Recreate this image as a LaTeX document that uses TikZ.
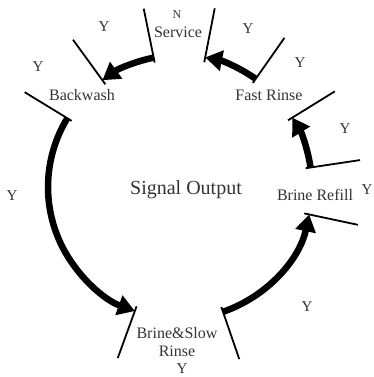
\documentclass[tikz,border=0pt]{standalone}
\usepackage{fontspec}
\setmainfont{Liberation Serif}
\usetikzlibrary{arrows.meta}

\begin{document}
\begin{tikzpicture}[x=1pt,y=1pt,
    tick/.style={line width=1.8pt},
    flow/.style={line width=6.5pt, -{Triangle[length=17pt,width=20pt]}},
    stage/.style={font=\fontsize{16}{18}\selectfont, text=black!80, inner sep=0pt},
    yes/.style={font=\fontsize{15}{16}\selectfont, text=black!80, inner sep=0pt}]

\useasboundingbox (-180,-190) rectangle (193,187);

% stage borders
\foreach \a/\n in {101.5/sl, 79/sr, 126/br, 148.6/bl, 55/fl, 31.7/fr,
                   8.5/rt, -12/rb, -110/wl, -71/wr}
  \draw[tick] (\a:127) -- (\a:182) (\a:132) coordinate (\n);

% flow between stages
\draw[flow] (sl) arc[start angle=101.5, end angle=126, radius=132];
\draw[flow] (fl) arc[start angle=55, end angle=79, radius=132];
\draw[flow] (rt) arc[start angle=8.5, end angle=31.7, radius=132];
\draw[flow] (wr) arc[start angle=-71, end angle=-12, radius=132];
\draw[flow] (bl) arc[start angle=148.6, end angle=250, radius=132];

% stages
\node[stage] (service) at (-2,155) {Service};
\node[font=\fontsize{12}{13}\selectfont, text=black!80, inner sep=0pt] (n) at (-3,172) {N};
\node[stage] (backwash) at (-98,92) {Backwash};
\node[stage] (fastrinse) at (89,92) {Fast Rinse};
\node[stage] (refill) at (135,-8) {Brine Refill};
\node[stage, align=center] (slowrinse) at (-3,-155) {Brine\&Slow\\Rinse};
\node[font=\fontsize{20}{22}\selectfont, text=black!80, inner sep=0pt] (signal) at (6,-3) {Signal Output};

% answers
\node[yes] (y1) at (-76,160) {Y};
\node[yes] (y2) at (-142,120) {Y};
\node[yes] (y3) at (68,158) {Y};
\node[yes] (y4) at (120,124) {Y};
\node[yes] (y5) at (165,58) {Y};
\node[yes] (y6) at (187,-3) {Y};
\node[yes] (y7) at (-168,-9) {Y};
\node[yes] (y8) at (2,-182) {Y};
\node[yes] (y9) at (127,-120) {Y};
\end{tikzpicture}
\end{document}
